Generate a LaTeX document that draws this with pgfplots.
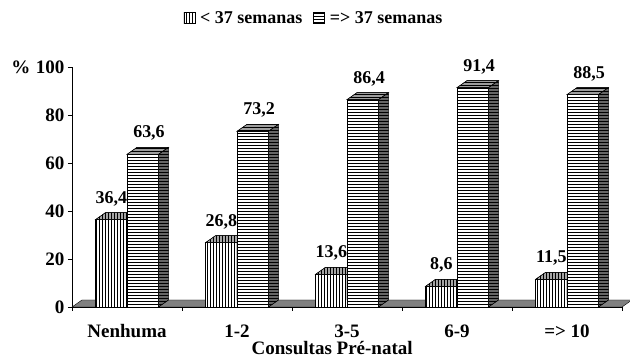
\documentclass[border=0pt]{standalone}
\usepackage{pgfplots}
\pgfplotsset{compat=1.18}
\usepackage{pgfplotstable}
\usetikzlibrary{patterns}
\usepackage{fontspec}
\setmainfont{Liberation Serif}

% percentage of births by number of prenatal visits
\pgfplotstableread{
x   a     b
0.5 36.4  63.6
1.5 26.8  73.2
2.5 13.6  86.4
3.5 8.6   91.4
4.5 11.5  88.5
}\consultas

\newcommand\fTick{\fontsize{19}{22}\selectfont\bfseries}
\newcommand\fVal{\fontsize{18}{21}\selectfont\bfseries}
\newcommand\fLeg{\fontsize{18}{21}\selectfont\bfseries}

% top and side faces of a 3-D bar; origin at the front top edge,
% \hv is the bar value (2.4pt per percent)
\pgfdeclareplotmark{facesA}{%
  \path[draw=black, fill=black!35, postaction={pattern=vertical lines}]
    (0pt,{7pt-\hv*2.4pt}) -- (10pt,{7pt-\hv*2.4pt}) -- (10pt,7pt) -- (0pt,0pt) -- cycle;
  \path[draw=black, fill=black!35, postaction={pattern=vertical lines}]
    (-31.5pt,0pt) -- (-21.5pt,7pt) -- (10pt,7pt) -- (0pt,0pt) -- cycle;
}
\pgfdeclareplotmark{facesB}{%
  \path[draw=black, fill=black!38, postaction={pattern=horizontal lines}]
    (0pt,0pt) -- (10pt,7pt) -- (41.5pt,7pt) -- (31.5pt,0pt) -- cycle;
  \path[draw=black, fill=black!60, postaction={pattern=horizontal lines}]
    (31.5pt,0pt) -- (41.5pt,7pt) -- (41.5pt,{7pt-\hv*2.4pt}) -- (31.5pt,{-\hv*2.4pt}) -- cycle;
}

\pgfplotsset{
  value label/.style={draw=none, mark=none, forget plot,
    nodes near coords={\pgfmathprintnumber[fixed, fixed zerofill, precision=1, use comma]{\pgfplotspointmeta}},
    nodes near coords style={font=\fVal, anchor=base, yshift=16.5pt, xshift=#1}},
}

\begin{document}
\begin{tikzpicture}
\useasboundingbox (0,0) rectangle (630pt,359pt);
\begin{axis}[
  at={(72pt,52pt)}, anchor=south west,
  x=110pt, y=2.4pt,
  xmin=0, xmax=5, ymin=0, ymax=100,
  clip=false, clip marker paths=true,
  axis x line=bottom, axis y line=left,
  axis line style={-, black, line width=0.8pt},
  tick align=outside, major tick length=4pt,
  tick style={black, line width=0.6pt},
  /pgf/number format/assume math mode=true,
  xtick={0,1,2,3,4,5}, xticklabels={},
  extra x ticks={0.5,1.5,2.5,3.5,4.5},
  extra x tick labels={Nenhuma,1-2,3-5,6-9,{=> 10}},
  extra x tick style={major tick length=0pt},
  xticklabel style={font=\fTick, anchor=base, yshift=-30.5pt},
  ytick={0,20,40,60,80,100},
  yticklabel style={font=\fTick},
  xlabel={Consultas Pré-natal},
  xlabel style={font=\fTick, at={(axis description cs:0.473,0)}, anchor=center, yshift=-41.5pt},
  ylabel={\%},
  ylabel style={font=\fTick, rotate=-90, at={(axis description cs:0,1)}, anchor=east, xshift=-38pt},
  legend style={draw=none, fill=none, at={(axis description cs:0.44,1.204)}, anchor=center,
    legend columns=2, font=\fLeg, inner sep=0pt,
    /tikz/every odd column/.append style={column sep=3pt},
    /tikz/every even column/.append style={column sep=9pt}},
  legend cell align=left,
  bar width=31.5pt,
]
% floor
\addplot[draw=black, fill=black!50, forget plot]
  coordinates {(0,0) (5,0) (5.0909,2.9167) (0.0909,2.9167)} -- cycle;

% < 37 semanas: front face, hatching, top and side faces
\addplot[ybar, bar shift=-15.75pt, draw=black, fill=white,
  legend image code/.code={\draw[draw=black, fill=white, postaction={pattern=vertical lines}]
    (0pt,-5.5pt) rectangle (11pt,5.5pt);}]
  table[x=x, y=a] {\consultas};
\addlegendentry{< 37 semanas}
\addplot[ybar, bar shift=-15.75pt, draw=black, pattern=vertical lines, forget plot]
  table[x=x, y=a] {\consultas};
\addplot[only marks, mark=facesA, forget plot,
  visualization depends on={rawy \as \hv}]
  table[x=x, y=a] {\consultas};

% => 37 semanas
\addplot[ybar, bar shift=15.75pt, draw=black, fill=white,
  legend image code/.code={\draw[draw=black, fill=white, postaction={pattern=horizontal lines}]
    (0pt,-5.5pt) rectangle (11pt,5.5pt);}]
  table[x=x, y=b] {\consultas};
\addlegendentry{=> 37 semanas}
\addplot[ybar, bar shift=15.75pt, draw=black, pattern=horizontal lines, forget plot]
  table[x=x, y=b] {\consultas};
\addplot[only marks, mark=facesB, forget plot,
  visualization depends on={rawy \as \hv}]
  table[x=x, y=b] {\consultas};

% value labels on top
\addplot[value label=-15.75pt] table[x=x, y=a] {\consultas};
\addplot[value label=22pt] table[x=x, y=b] {\consultas};
\end{axis}
\end{tikzpicture}
\end{document}
